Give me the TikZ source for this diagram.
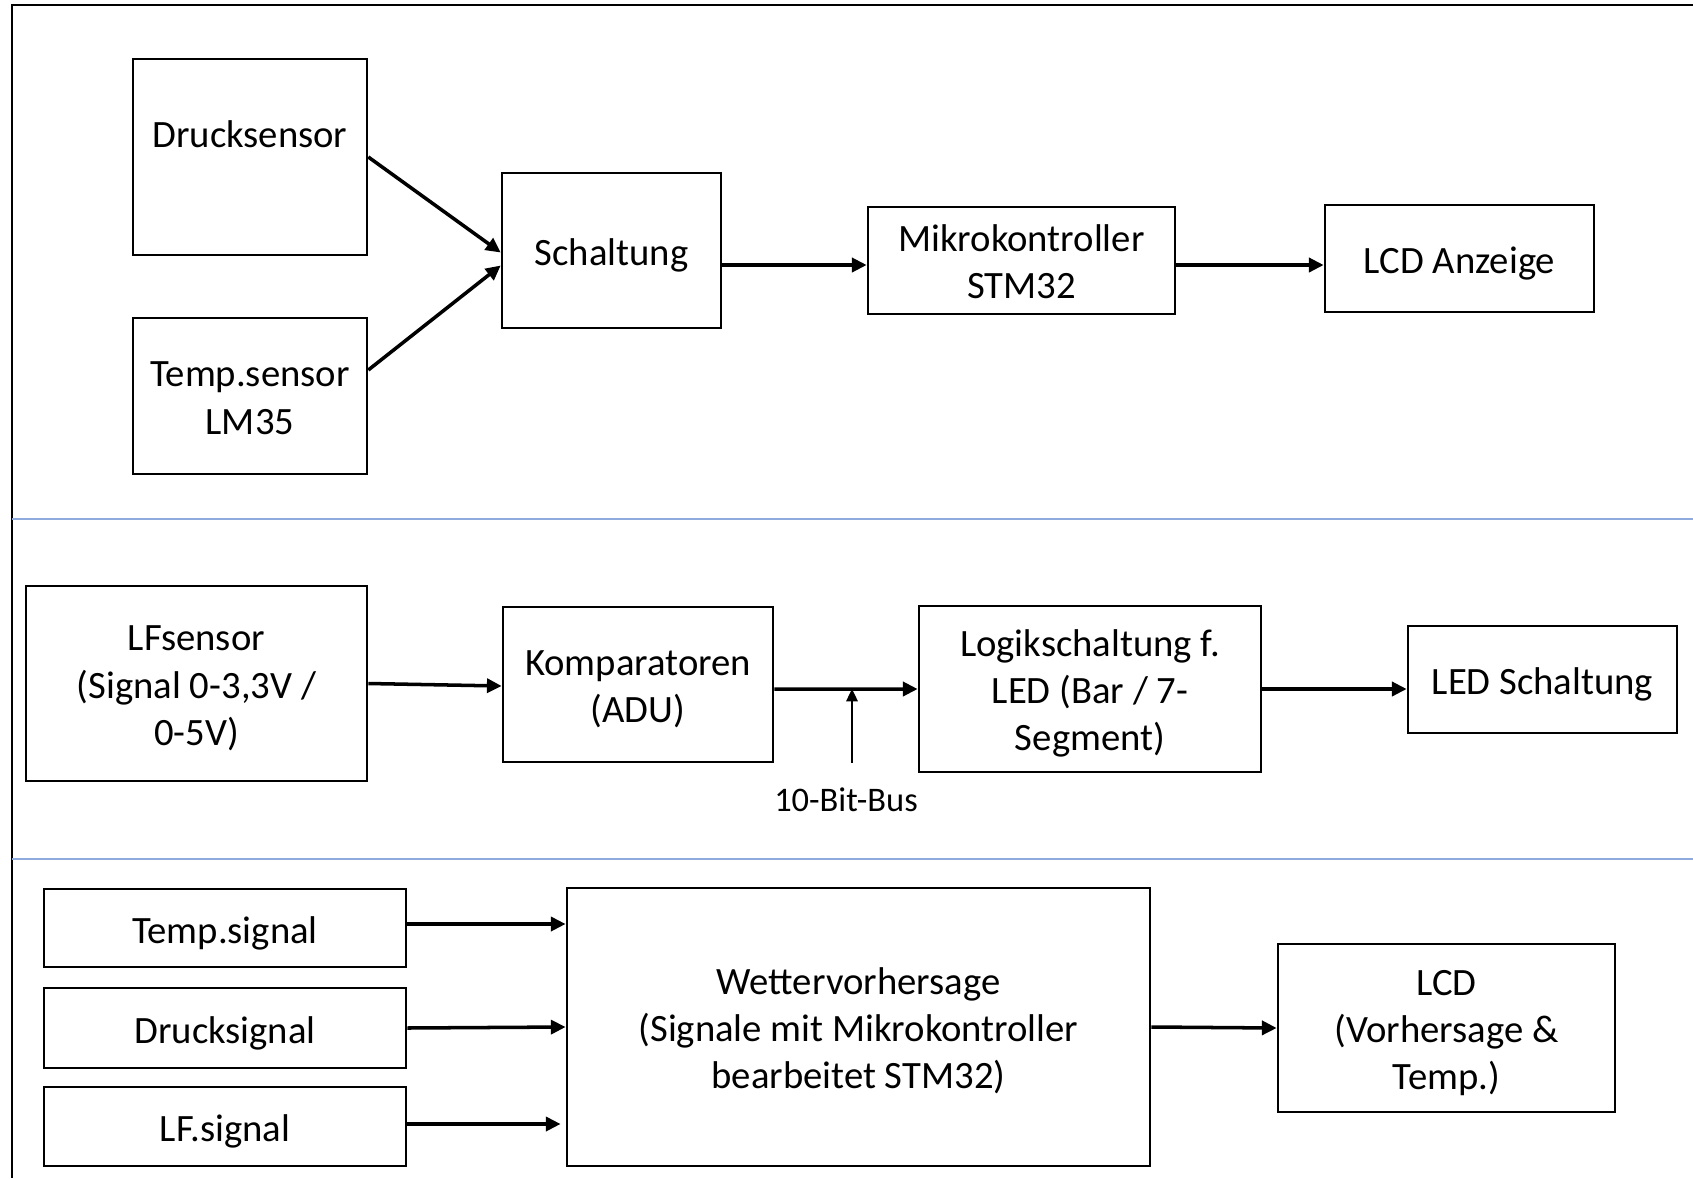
\documentclass[tikz,border=0pt]{standalone}
\usepackage{fontspec}
\setmainfont{Carlito}
\usetikzlibrary{arrows.meta}
\definecolor{sepblue}{RGB}{143,170,220}
\newcommand{\boxstrut}{\rule{0pt}{0.96em}}
\begin{document}
\begin{tikzpicture}[x=0.01cm,y=-0.01cm]
	\tikzstyle{every node}+=[font=\fontsize{11}{13.4}\selectfont, align=center]
	\tikzstyle{block}=[draw, line width=0.7pt, inner sep=0pt, execute at begin node={\rule{0pt}{0.99em}}, execute at end node={\rule[-0.21em]{0pt}{0pt}}]
	\tikzstyle{flow}=[line width=1pt, -{Triangle[length=4.2pt,width=4pt]}]
	\tikzstyle{sep}=[line width=0.5pt, sepblue]
	\useasboundingbox (0,0) rectangle (1693,1178);
	\draw [line width=0.6pt] (1693,5) -- (12,5) -- (12,1178);
	\draw [sep] (12,519) -- (1693,519);
	\draw [sep] (12,859) -- (1693,859);
	\node [block, minimum width=2.34cm, minimum height=1.96cm, text depth=0.57cm] (druck) at (250,157) {Drucksensor};
	\node [block, minimum width=2.34cm, minimum height=1.56cm] (temp) at (250,396) {\boxstrut Temp.sensor\\LM35};
	\node [block, minimum width=2.19cm, minimum height=1.55cm] (schalt) at (611.5,250.5) {Schaltung};
	\node [block, minimum width=3.07cm, minimum height=1.07cm] (mikro) at (1021.5,260.5) {\boxstrut Mikrokontroller\\STM32};
	\node [block, minimum width=2.69cm, minimum height=1.07cm] (lcda) at (1459.5,258.5) {LCD Anzeige};
	\draw [flow] (druck.east) -- ([yshift=-0.02cm]schalt.west);
	\draw [flow] ([yshift=0.26cm]temp.east) -- ([yshift=-0.15cm]schalt.west);
	\draw [flow] ([yshift=-0.045cm]mikro.west -| schalt.east) -- ([yshift=-0.045cm]mikro.west);
	\draw [flow] ([yshift=-0.045cm]mikro.east) -- ([yshift=-0.045cm]mikro.east -| lcda.west);
	\node [block, minimum width=3.41cm, minimum height=1.95cm] (lf) at (196.5,683.5) {\boxstrut LFsensor\\(Signal 0-3,3V /\\0-5V)};
	\node [block, minimum width=2.70cm, minimum height=1.55cm] (komp) at (638,684.5) {\boxstrut Komparatoren\\(ADU)};
	\node [block, minimum width=3.42cm, minimum height=1.66cm] (logik) at (1090,689) {\boxstrut Logikschaltung f.\\LED (Bar / 7-\\Segment)};
	\node [block, minimum width=2.69cm, minimum height=1.07cm] (led) at (1542.5,679.5) {LED Schaltung};
	\coordinate (busend) at (852,763);
	\node [font=\fontsize{9.8}{12}\selectfont] (bus) at (846,800) {10-Bit-Bus};
	\draw [flow] (lf.east) -- ([yshift=-0.015cm]komp.west);
	\draw [flow] ([yshift=-0.045cm]komp.east) -- (logik.west);
	\draw [line width=0.4pt, -{Triangle[length=3.5pt,width=3.3pt]}] (busend) -- (busend |- logik.west);
	\draw [flow] (logik.east) -- (logik.east -| led.west);
	\node [block, minimum width=3.62cm, minimum height=0.78cm] (tsig) at (225,928) {Temp.signal};
	\node [block, minimum width=3.62cm, minimum height=0.80cm] (dsig) at (225,1028) {Drucksignal};
	\node [block, minimum width=3.62cm, minimum height=0.79cm] (lfsig) at (225,1126.5) {LF.signal};
	\node [block, minimum width=5.83cm, minimum height=2.78cm] (wetter) at (858.5,1027) {\boxstrut Wettervorhersage\\(Signale mit Mikrokontroller\\bearbeitet STM32)};
	\node [block, minimum width=3.37cm, minimum height=1.68cm] (lcd) at (1446.5,1028) {\boxstrut LCD\\(Vorhersage \&\\Temp.)};
	\draw [flow] ([yshift=0.04cm]tsig.east) -- ([yshift=0.04cm]tsig.east -| wetter.west);
	\draw [flow] (dsig.east) -- (wetter.west);
	\draw [flow, shorten >=0.05cm] ([yshift=0.025cm]lfsig.east) -- ([yshift=0.025cm]lfsig.east -| wetter.west);
	\draw [flow] (wetter.east) -- (lcd.west);
\end{tikzpicture}
\end{document}
